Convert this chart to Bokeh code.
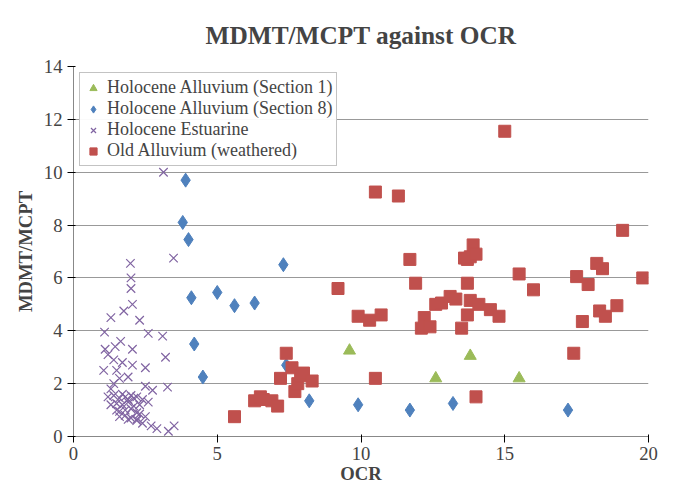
from bokeh.plotting import figure
from bokeh.models import Legend, LegendItem, FixedTicker
from bokeh.embed import file_html
from bokeh.resources import INLINE

s1_x = [9.6, 12.6, 13.8, 15.5]
s1_y = [3.25, 2.2, 3.05, 2.2]

s8_x = [3.9, 3.8, 4.0, 4.1, 4.2, 4.5, 5.0, 5.6, 6.3, 7.3, 7.4, 8.2, 9.9, 11.7, 13.2, 17.2]
s8_y = [9.7, 8.1, 7.45, 5.25, 3.5, 2.25, 5.45, 4.95, 5.05, 6.5, 2.7, 1.35, 1.2, 1.0, 1.25, 1.0]

est_x = [3.13, 3.48, 1.98, 2.0, 2.0, 2.05, 1.75, 1.3, 2.3, 2.6, 3.1, 1.08, 1.64, 1.1, 2.05, 3.2,
         1.4, 2.5, 1.05, 1.5, 1.9, 3.27, 2.75, 1.2, 1.4, 1.6, 1.7, 1.8, 1.9, 2.0, 2.1, 2.2, 2.4,
         2.6, 1.3, 1.5, 1.7, 1.9, 2.1, 2.3, 1.5, 1.6, 1.8, 2.0, 2.2, 1.6, 1.8, 2.0, 2.3, 2.5,
         1.9, 2.2, 2.4, 2.2, 2.7, 3.5, 3.3, 2.9, 1.4, 1.6, 1.2, 1.45, 2.05, 2.5, 1.3, 1.7]
est_y = [10.0, 6.75, 6.55, 6.0, 5.6, 5.0, 4.75, 4.5, 4.4, 3.9, 3.8, 3.95, 3.6, 3.3, 3.3, 3.0,
         2.9, 2.6, 2.5, 2.5, 2.25, 1.87, 1.75, 1.5, 1.55, 1.45, 1.6, 1.5, 1.4, 1.55, 1.45, 1.5, 1.4,
         1.3, 1.2, 1.25, 1.2, 1.3, 1.15, 1.2, 1.0, 0.95, 1.0, 1.05, 0.9, 0.75, 0.8, 0.7, 0.85, 0.75,
         0.65, 0.6, 0.5, 0.65, 0.4, 0.4, 0.2, 0.3, 2.0, 2.2, 3.1, 3.4, 2.7, 1.9, 1.8, 2.8]

old_x = [5.6, 6.3, 6.5, 6.6, 6.9, 7.1, 7.2, 7.4, 7.6, 7.7, 7.8, 7.9, 8.0, 8.3, 9.2, 9.9, 10.3,
         10.5, 10.5, 10.7, 11.3, 11.7, 11.9, 12.1, 12.2, 12.4, 12.6, 12.8, 13.1, 13.3, 13.5, 13.6,
         13.7, 13.8, 13.9, 13.7, 13.8, 13.7, 14.0, 14.1, 14.5, 14.8, 14.0, 15.0, 15.5, 16.0, 17.4,
         17.5, 17.7, 17.9, 18.2, 18.3, 18.4, 18.5, 18.9, 19.1, 19.8]
old_y = [0.75, 1.35, 1.5, 1.4, 1.35, 1.15, 2.2, 3.15, 2.6, 1.7, 2.0, 2.3, 2.4, 2.1, 5.6, 4.55, 4.4,
         2.2, 9.25, 4.6, 9.1, 6.7, 5.8, 4.1, 4.5, 4.15, 5.0, 5.05, 5.3, 5.2, 4.1, 6.75,
         6.7, 6.8, 7.25, 5.8, 5.15, 4.6, 6.9, 5.0, 4.8, 4.55, 1.5, 11.55, 6.15, 5.55, 3.15,
         6.05, 4.35, 5.75, 6.55, 4.75, 6.35, 4.55, 4.95, 7.8, 6.0]

labels = ["Holocene Alluvium (Section 1)", "Holocene Alluvium (Section 8)",
          "Holocene Estuarine", "Old Alluvium (weathered)"]

p = figure(width=675, height=486, x_range=(0, 20), y_range=(0, 14),
           output_backend="svg", toolbar_location=None,
           title="MDMT/MCPT against OCR", min_border_right=27, min_border_left=73,
           min_border_top=10, min_border_bottom=0)
p.title.align = "center"
p.title.text_font = "Liberation Serif"
p.title.text_font_size = "19pt"
p.title.text_font_style = "bold"
p.title.offset = 60
p.title.standoff = 36

r1 = p.scatter(s1_x, s1_y, marker="triangle", size=12, color="#9BBB59")
r2 = p.scatter(s8_x, s8_y, marker="diamond", size=14, color="#4F81BD")
r3 = p.scatter(est_x, est_y, marker="x", size=12, line_color="#8064A2", line_width=1.2)
r4 = p.scatter(old_x, old_y, marker="square", size=12, color="#C0504D")

for ax in (p.xaxis, p.yaxis):
    ax.axis_label_text_font = "Liberation Serif"
    ax.axis_label_text_font_size = "14pt"
    ax.axis_label_text_font_style = "bold"
    ax.major_label_text_font = "Liberation Serif"
    ax.major_label_text_font_size = "14pt"
    ax.minor_tick_line_color = None
    ax.axis_line_color = "#888888"
p.xaxis.axis_label = "OCR"
p.yaxis.axis_label = "MDMT/MCPT"
p.xaxis.ticker = FixedTicker(ticks=[0, 5, 10, 15, 20])
p.yaxis.ticker = FixedTicker(ticks=list(range(0, 15, 2)))
p.xgrid.grid_line_color = None
p.ygrid.grid_line_color = "#999999"
p.outline_line_color = None
p.xaxis.axis_label_standoff = 0
p.xaxis.major_label_standoff = 4

leg = Legend(items=[LegendItem(label=l, renderers=[r]) for l, r in zip(labels, [r1, r2, r3, r4])],
             location="top_left", label_text_font="Liberation Serif", label_text_font_size="13.5pt",
             border_line_color="#888888", spacing=-4, padding=4, margin=6, glyph_width=18)
p.add_layout(leg)

open("out.html", "w").write(file_html(p, INLINE))
